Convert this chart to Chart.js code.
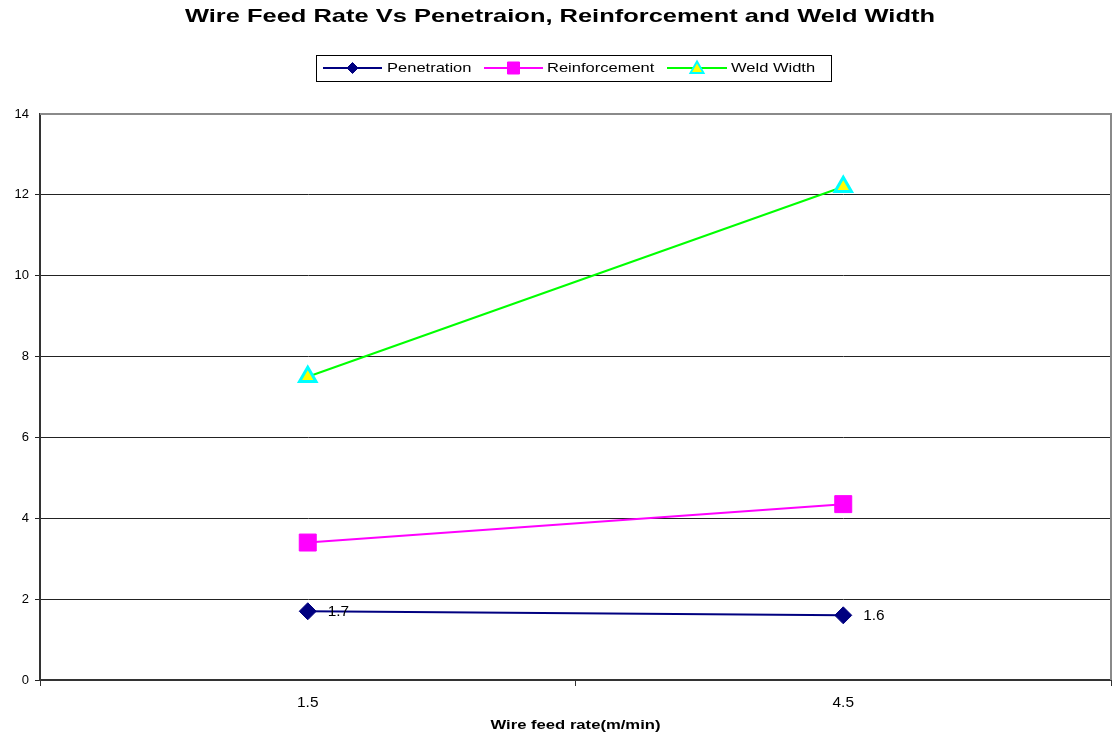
<!DOCTYPE html>
<html>
<head>
<meta charset="utf-8">
<title>Wire Feed Rate Vs Penetraion, Reinforcement and Weld Width</title>
<script src="https://cdn.jsdelivr.net/npm/chart.js@4.4.1/dist/chart.umd.min.js"></script>
<style>
  html, body { margin: 0; padding: 0; background: #fff; overflow: hidden; }
  #wrap { width: 1112px; height: 742px; position: relative; }
</style>
</head>
<body>
<div id="wrap"><canvas id="weld-chart" width="1112" height="742"></canvas></div>
<script>
const feedRates = ['1.5', '4.5']
const penetration = [1.7, 1.6]
const reinforcement = [3.4, 4.35]
const weldWidth = [7.5, 12.2]
const yTicks = [0, 2, 4, 6, 8, 10, 12, 14]

const FONT = "'Liberation Sans', Arial, sans-serif"
const canvas = document.getElementById('weld-chart')

const seriesStyle = [
  { label: 'Penetration', data: penetration, line: '#000080', fill: '#000080', edge: '#000080', shape: 'rectRot', r: 8.5, bw: 1 },
  { label: 'Reinforcement', data: reinforcement, line: '#ff00ff', fill: '#ff00ff', edge: '#ff00ff', shape: 'rect', r: 12, bw: 1 },
  { label: 'Weld Width', data: weldWidth, line: '#00ff00', fill: '#ffff00', edge: '#00ffff', shape: 'triangle', r: 9.5, bw: 3 }
]

// text is drawn a little wider than the font's natural width
function wideText(ctx, text, x, y, sx, align) {
  ctx.save()
  ctx.translate(x, y)
  ctx.scale(sx, 1)
  ctx.textAlign = align
  ctx.fillText(text, 0, 0)
  ctx.restore()
}

// small marker painter for the legend
function marker(ctx, s, x, y, size) {
  ctx.save()
  ctx.fillStyle = s.fill
  ctx.strokeStyle = s.edge
  ctx.lineWidth = s.shape === 'triangle' ? 2 : 1
  ctx.beginPath()
  if (s.shape === 'rectRot') {
    ctx.moveTo(x, y - size); ctx.lineTo(x + size, y); ctx.lineTo(x, y + size); ctx.lineTo(x - size, y)
  } else if (s.shape === 'rect') {
    ctx.rect(x - size, y - size, size * 2, size * 2)
  } else {
    ctx.moveTo(x, y - size); ctx.lineTo(x + size, y + size * 0.75); ctx.lineTo(x - size, y + size * 0.75)
  }
  ctx.closePath()
  ctx.fill()
  ctx.stroke()
  ctx.restore()
}

const frame = {
  id: 'frame',
  beforeDatasetsDraw(chart) {
    const { ctx, chartArea: a } = chart
    ctx.save()
    ctx.strokeStyle = '#8a8a8a'
    ctx.lineWidth = 2
    ctx.beginPath()
    ctx.moveTo(a.left, a.top)
    ctx.lineTo(a.right, a.top)
    ctx.lineTo(a.right, a.bottom)
    ctx.stroke()
    ctx.restore()
  },
  afterDraw(chart) {
    const ctx = chart.ctx
    const xs = chart.scales.x
    ctx.save()
    ctx.fillStyle = '#000'
    ctx.textBaseline = 'middle'

    // title
    ctx.font = 'bold 19px ' + FONT
    const t = 'Wire Feed Rate Vs Penetraion, Reinforcement and Weld Width'
    wideText(ctx, t, 560, 17, 750 / ctx.measureText(t).width, 'center')

    // x axis title
    ctx.font = 'bold 13px ' + FONT
    wideText(ctx, 'Wire feed rate(m/min)', (xs.left + xs.right) / 2, 725, 1.28, 'center')

    // category labels
    ctx.font = '14px ' + FONT
    feedRates.forEach((lab, i) => {
      wideText(ctx, lab, xs.getPixelForValue(i), 703, 1.1, 'center')
    })

    // legend box
    ctx.strokeStyle = '#000'
    ctx.lineWidth = 1
    ctx.strokeRect(316.5, 55.5, 515, 26)
    const items = [
      { x0: 323, x1: 382, tx: 387, size: 5.5 },
      { x0: 484, x1: 543, tx: 547, size: 6 },
      { x0: 667, x1: 727, tx: 731, size: 6.5 }
    ]
    ctx.font = '13px ' + FONT
    items.forEach((it, i) => {
      const s = seriesStyle[i]
      ctx.strokeStyle = s.line
      ctx.lineWidth = 2
      ctx.beginPath()
      ctx.moveTo(it.x0, 68)
      ctx.lineTo(it.x1, 68)
      ctx.stroke()
      marker(ctx, s, (it.x0 + it.x1) / 2, 68, it.size)
      ctx.fillStyle = '#000'
      wideText(ctx, s.label, it.tx, 68, 1.27, 'left')
    })
    ctx.restore()
  },
  afterDatasetsDraw(chart) {
    // value labels next to the penetration points
    const ctx = chart.ctx
    const meta = chart.getDatasetMeta(0)
    ctx.save()
    ctx.fillStyle = '#000'
    ctx.font = '14px ' + FONT
    ctx.textBaseline = 'middle'
    meta.data.forEach((pt, i) => {
      wideText(ctx, String(penetration[i]), pt.x + 20, pt.y + 1, 1.1, 'left')
    })
    ctx.restore()
  }
}

const weldChart = new Chart(canvas, {
  type: 'line',
  data: {
    labels: feedRates,
    datasets: seriesStyle.map(s => ({
      label: s.label,
      data: s.data,
      borderColor: s.line,
      borderWidth: 2,
      pointStyle: s.shape,
      pointRadius: s.r,
      pointHoverRadius: s.r,
      pointBackgroundColor: s.fill,
      pointBorderColor: s.edge,
      pointBorderWidth: s.bw,
      tension: 0
    }))
  },
  options: {
    responsive: false,
    animation: false,
    layout: { autoPadding: false, padding: { top: 114, right: 1, left: 0, bottom: 0 } },
    plugins: {
      legend: { display: false },
      title: { display: false },
      tooltip: { enabled: false }
    },
    scales: {
      x: {
        type: 'category',
        offset: true,
        afterFit(scale) {
          scale.height = 62
          scale.paddingLeft = 0
          scale.paddingRight = 0
        },
        grid: { offset: true, drawOnChartArea: false, tickLength: 6, color: '#333' },
        border: { color: '#333', width: 2 },
        ticks: { display: false }
      },
      y: {
        min: 0,
        max: 14,
        afterFit(scale) {
          scale.width = 40
          scale.paddingTop = 0
          scale.paddingBottom = 0
        },
        afterBuildTicks(scale) { scale.ticks = yTicks.map(v => ({ value: v })) },
        grid: {
          tickLength: 5,
          color: c => (c.tick && c.tick.value === 14 ? '#8a8a8a' : '#222'),
          lineWidth: c => (c.tick && c.tick.value === 14 ? 0 : 1)
        },
        border: { color: '#333', width: 2 },
        ticks: { color: '#000', font: { family: FONT, size: 13 }, padding: 6 }
      }
    }
  },
  plugins: [frame]
})
</script>
</body>
</html>
